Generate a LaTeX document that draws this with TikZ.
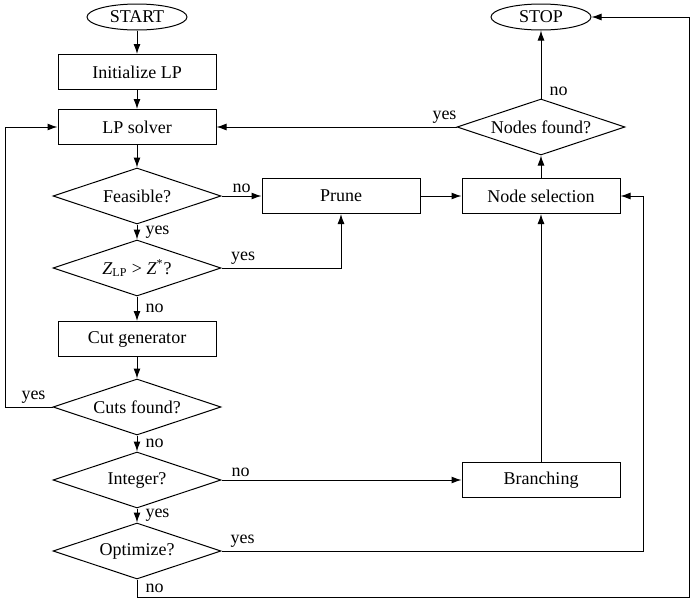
\documentclass[tikz,border=0pt]{standalone}
\usepackage{fontspec}
\setmainfont{Liberation Serif}
\usetikzlibrary{shapes.geometric,arrows.meta}

\begin{document}
\begin{tikzpicture}[x=0.5pt, y=-0.5pt, font=\fontsize{9}{11}\selectfont,
  line width=0.5pt,
  terminal/.style={draw, ellipse, inner sep=0pt, minimum width=50pt, minimum height=13pt},
  process/.style={draw, rectangle, inner sep=0pt, minimum width=79pt, minimum height=17.5pt},
  decision/.style={draw, diamond, aspect=3, inner sep=0pt, minimum width=84pt, minimum height=28pt},
  flow/.style={-{Latex[length=5pt, width=3.5pt]}},
  lbl/.style={inner sep=1.5pt},
  sidelbl/.style={inner sep=4pt, right}]

  \useasboundingbox (0,0) rectangle (692,600);

  % Main column
  \node[terminal] (start)     at (137, 17) {START};
  \node[process]  (init)      at (137, 72) {Initialize LP};
  \node[process]  (solver)    at (137,127) {LP solver};
  \node[decision] (feasible)  at (137,196) {Feasible?};
  \node[decision] (zcheck)    at (137,268) {\textit{Z}\textsubscript{LP} > \textit{Z}\textsuperscript{*}?};
  \node[process]  (cutgen)    at (137,339) {Cut generator};
  \node[decision] (cutsfound) at (137,407) {Cuts found?};
  \node[decision] (integer)   at (137,480) {Integer?};
  \node[decision] (optimize)  at (137,551) {Optimize?};

  % Right side
  \node[process]  (prune)      at (341,196) {Prune};
  \node[process]  (select)     at (541,196) {Node selection};
  \node[process]  (branch)     at (541,480) {Branching};
  \node[decision] (nodesfound) at (541,127) {Nodes found?};
  \node[terminal] (stop)       at (541, 17) {STOP};

  % Corner points
  \coordinate (lloop) at (5,407);
  \coordinate (rjoin) at (643,196);
  \coordinate (bl)    at (137,597);
  \coordinate (br)    at (689,597);

  % Main flow
  \draw[flow] (start) -- (init);
  \draw[flow] (init) -- (solver);
  \draw[flow] (solver) -- (feasible);
  \draw[flow] (feasible) -- node[sidelbl] {yes} (zcheck);
  \draw[flow] (zcheck) -- node[sidelbl] {no} (cutgen);
  \draw[flow] (cutgen) -- (cutsfound);
  \draw[flow] (cutsfound) -- node[sidelbl] {no} (integer);
  \draw[flow] (integer) -- node[sidelbl] {yes} (optimize);

  % Branches
  \draw[flow] (feasible) -- node[lbl, above] {no} (prune);
  \draw[flow] (zcheck.east) -| node[lbl, above, pos=0.09] {yes} (prune.south);
  \draw[flow] (cutsfound.west) -- node[lbl, above, pos=0.4] {yes} (lloop) |- (solver.west);
  \draw[flow] (integer) -- node[lbl, above, pos=0.08] {no} (branch);
  \draw[flow] (optimize.east) -- node[lbl, above, pos=0.05] {yes} (optimize.east -| rjoin) -- (rjoin) -- (select.east);
  \draw[flow] (optimize.south) -- node[sidelbl] {no} (bl) -- (br) |- (stop.east);

  % Node selection loop
  \draw[flow] (prune) -- (select);
  \draw[flow] (branch) -- (select);
  \draw[flow] (select) -- (nodesfound);
  \draw[flow] (nodesfound) -- node[sidelbl, pos=0.1] {no} (stop);
  \draw[flow] (nodesfound.west) -- node[lbl, above, pos=0.05] {yes} (solver.east);

\end{tikzpicture}
\end{document}
